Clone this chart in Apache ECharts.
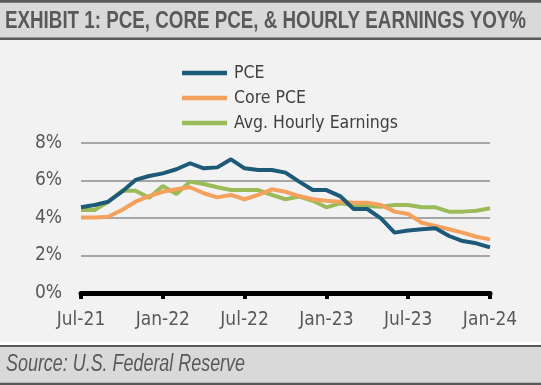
<!DOCTYPE html>
<html>
<head>
<meta charset="utf-8">
<style>
  html, body { margin: 0; padding: 0; background: #ffffff; }
  #chart { width: 541px; height: 385px; }
</style>
<script src="https://cdn.jsdelivr.net/npm/echarts@6/dist/echarts.min.js"></script>
</head>
<body>
<div id="chart"></div>
<script>
const categories = [
  'Jul-21','Aug-21','Sep-21','Oct-21','Nov-21','Dec-21',
  'Jan-22','Feb-22','Mar-22','Apr-22','May-22','Jun-22',
  'Jul-22','Aug-22','Sep-22','Oct-22','Nov-22','Dec-22',
  'Jan-23','Feb-23','Mar-23','Apr-23','May-23','Jun-23',
  'Jul-23','Aug-23','Sep-23','Oct-23','Nov-23','Dec-23','Jan-24'
];
const pce = [4.57, 4.69, 4.87, 5.4, 6.03, 6.24, 6.38, 6.6, 6.92, 6.65, 6.7, 7.13,
  6.65, 6.56, 6.56, 6.42, 5.94, 5.49, 5.49, 5.17, 4.48, 4.48, 3.98, 3.22,
  3.33, 3.4, 3.45, 3.04, 2.77, 2.65, 2.43];
const corePce = [4.03, 4.03, 4.07, 4.43, 4.87, 5.17, 5.4, 5.53, 5.64, 5.32, 5.1, 5.23,
  5.0, 5.23, 5.53, 5.4, 5.17, 5.0, 4.92, 4.87, 4.82, 4.82, 4.69, 4.34,
  4.21, 3.75, 3.57, 3.4, 3.22, 3.0, 2.86];
const hourlyEarnings = [4.43, 4.43, 4.87, 5.45, 5.45, 5.08, 5.71, 5.28, 5.94, 5.81, 5.64, 5.49,
  5.49, 5.49, 5.23, 5.0, 5.14, 4.92, 4.57, 4.78, 4.69, 4.64, 4.6, 4.69,
  4.69, 4.57, 4.57, 4.34, 4.34, 4.39, 4.52];
const yTicks = [0, 2, 4, 6, 8];
const titleText = 'EXHIBIT 1: PCE, CORE PCE, & HOURLY EARNINGS YOY%';
const sourceText = 'Source: U.S. Federal Reserve';

const narrow = '"DejaVu Sans Condensed", "Liberation Sans Narrow", sans-serif';

// measure text to horizontally condense the title and source lines to their target widths
const mctx = document.createElement('canvas').getContext('2d');
function measure(font, text) { mctx.font = font; return mctx.measureText(text).width; }
const titleFont = 'bold 24px "Liberation Sans", Arial, sans-serif';
const sourceFont = 'italic 23px "Liberation Sans", Arial, sans-serif';
const titleScale = 521 / measure(titleFont, titleText);
const sourceScale = 239 / measure(sourceFont, sourceText);

const chart = echarts.init(document.getElementById('chart'), null, { renderer: 'canvas' });
chart.setOption({
  animation: false,
  backgroundColor: '#ffffff',
  graphic: [
    { type: 'rect', z: -10, shape: { x: 0, y: 39, width: 541, height: 303 }, style: { fill: '#f2f2f2' } },
    { type: 'rect', z: -5, shape: { x: 0, y: 0, width: 541, height: 40 }, style: { fill: '#595959' } },
    { type: 'rect', z: -4, shape: { x: 0, y: 2.7, width: 541, height: 34.8 }, style: { fill: '#d9d9d9' } },
    { type: 'rect', z: -5, shape: { x: 0, y: 345, width: 541, height: 40 }, style: { fill: '#595959' } },
    { type: 'rect', z: -4, shape: { x: 0, y: 347, width: 541, height: 35.8 }, style: { fill: '#d9d9d9' } },
    { type: 'text', z: 10, x: 5, y: 21, scaleX: titleScale, scaleY: 1,
      style: { text: titleText, font: titleFont, fill: '#595959', textAlign: 'left', textVerticalAlign: 'middle' } },
    { type: 'text', z: 10, x: 6, y: 365, scaleX: sourceScale, scaleY: 1,
      style: { text: sourceText, font: sourceFont, fill: '#595959', textAlign: 'left', textVerticalAlign: 'middle' } }
  ],
  legend: {
    orient: 'vertical', left: 177, top: 59, itemGap: 7,
    itemWidth: 45, itemHeight: 18,
    data: ['PCE', 'Core PCE', 'Avg. Hourly Earnings'],
    textStyle: { fontFamily: narrow, fontSize: 17.5, lineHeight: 18, color: '#404040', padding: [0, 0, 0, 2] },
    icon: 'path://M0,0 L45,0 L45,4.5 L0,4.5 Z'
  },
  grid: { left: 81, right: 51, top: 143, bottom: 92 },
  xAxis: {
    type: 'category', data: categories, boundaryGap: false,
    axisLine: { lineStyle: { color: '#000000', width: 5 } },
    axisTick: { interval: 5, length: 6, lineStyle: { color: '#000000', width: 4 } },
    axisLabel: { interval: 5, margin: 18, fontFamily: narrow, fontSize: 19, color: '#595959' },
    splitLine: { show: false }
  },
  yAxis: {
    type: 'value', min: yTicks[0], max: yTicks[yTicks.length - 1], interval: 2,
    axisLine: { show: false }, axisTick: { show: false },
    axisLabel: { margin: 19, fontFamily: narrow, fontSize: 19, color: '#595959', formatter: v => v + '%' },
    splitLine: { lineStyle: { color: '#8c8c8c', width: 1.5 } }
  },
  series: [
    { name: 'Avg. Hourly Earnings', type: 'line', data: hourlyEarnings, symbol: 'none', z: 2,
      itemStyle: { color: '#9bbb59' }, lineStyle: { width: 4, color: '#9bbb59' } },
    { name: 'Core PCE', type: 'line', data: corePce, symbol: 'none', z: 3,
      itemStyle: { color: '#f4a15d' }, lineStyle: { width: 4, color: '#f4a15d' } },
    { name: 'PCE', type: 'line', data: pce, symbol: 'none', z: 4,
      itemStyle: { color: '#1d5a78' }, lineStyle: { width: 4, color: '#1d5a78' } }
  ]
});
</script>
</body>
</html>
